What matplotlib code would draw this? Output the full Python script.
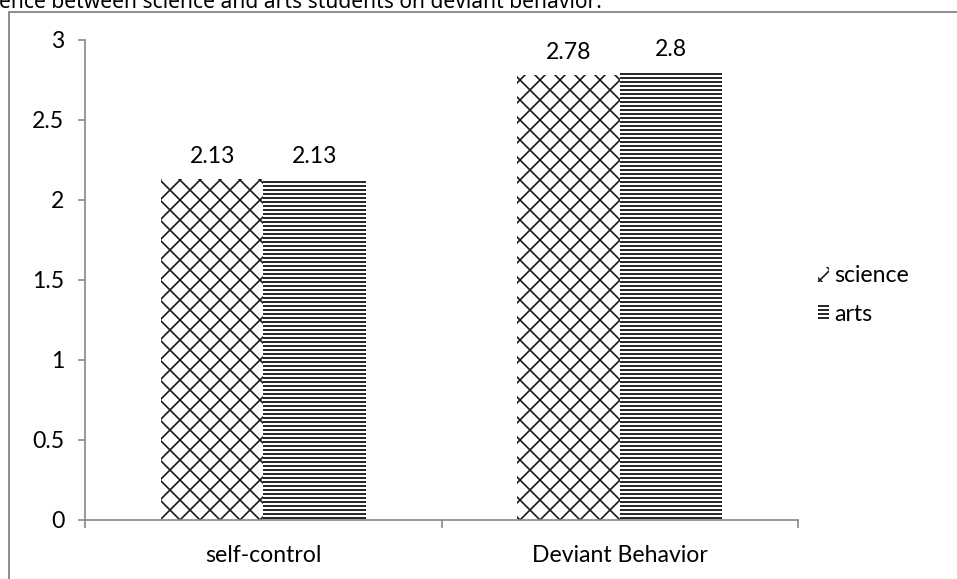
import matplotlib
matplotlib.use("Agg")
import matplotlib.pyplot as plt
from matplotlib.patches import Rectangle
import numpy as np

categories = ["self-control", "Deviant Behavior"]
science = [2.13, 2.78]
arts = [2.13, 2.8]
series_names = ["science", "arts"]
yticks = [0, 0.5, 1, 1.5, 2, 2.5, 3]
title = "ence between science and arts students on deviant behavior."

W, H, DPI = 957, 579, 120
plt.rcParams["hatch.linewidth"] = 1.0
plt.rcParams["font.family"] = ["Lato", "DejaVu Sans"]

fig = plt.figure(figsize=(W / DPI, H / DPI), dpi=DPI)
fig.patch.set_facecolor("white")

def fx(px):
    return px / W

def fy(py):
    return 1 - py / H

# outer chart frame
fig.patches.append(Rectangle((fx(9), fy(H + 20)), fx(W + 20), (H + 8) / H,
                             transform=fig.transFigure, fill=False,
                             edgecolor="#878787", linewidth=1.1))

fig.text(fx(-1), fy(8), title, ha="left", va="baseline",
         fontsize=12.6, family=["Noto Sans", "DejaVu Sans"], color="black")

ax = fig.add_axes([fx(85), fy(520), fx(798) - fx(85), fy(40) - fy(520)])
ax.set_facecolor("none")

FS = 13.8
x = np.arange(len(categories))
w = 0.287
b1 = ax.bar(x - w / 2, science, w, color="white", edgecolor="#1a1a1a",
            linewidth=0, hatch="xx", label=series_names[0])
b2 = ax.bar(x + w / 2, arts, w, color="white", edgecolor="black",
            linewidth=0, hatch="-----", label=series_names[1])

for bars, vals in ((b1, science), (b2, arts)):
    for r, v in zip(bars, vals):
        ax.annotate(f"{v:g}", (r.get_x() + r.get_width() / 2, v),
                    xytext=(0, 7.5), textcoords="offset points",
                    ha="center", va="bottom", fontsize=FS)

ax.set_xlim(-0.5, 1.5)
ax.set_ylim(0, 3)
ax.set_yticks(yticks)
ax.set_yticklabels([f"{t:g}" for t in yticks], fontsize=FS)
ax.set_xticks(x)
ax.set_xticklabels(categories, fontsize=FS)
ax.set_xticks([-0.5, 0.5, 1.5], minor=True)
ax.tick_params(axis="x", which="major", length=0, pad=15)
ax.tick_params(axis="x", which="minor", length=4.5, width=1, color="#878787",
               direction="out")
ax.tick_params(axis="y", length=4.5, width=1, color="#878787", pad=8)

for s in ("top", "right"):
    ax.spines[s].set_visible(False)
for s in ("left", "bottom"):
    ax.spines[s].set_color("#878787")
    ax.spines[s].set_linewidth(1)

ax.legend(loc="center left", bbox_to_anchor=(fx(797), fy(295)),
          bbox_transform=fig.transFigure, frameon=False, fontsize=FS,
          handlelength=0.5, handleheight=0.6, handletextpad=0.2,
          labelspacing=0.75)

fig.savefig("out.png", dpi=DPI, facecolor="white")
